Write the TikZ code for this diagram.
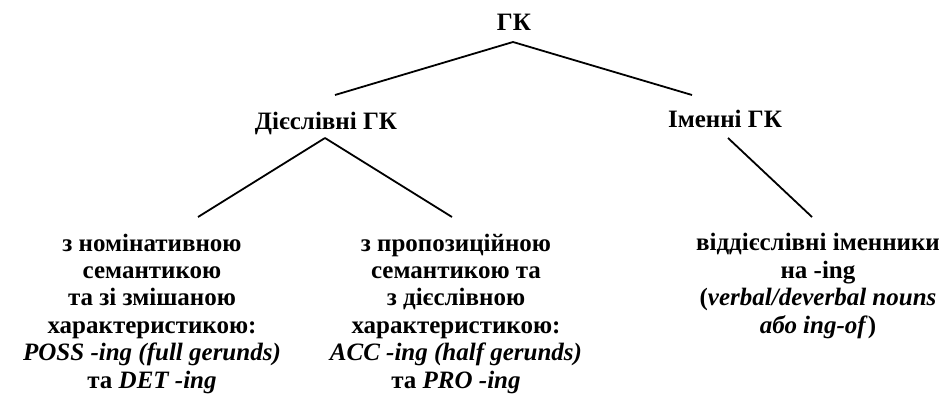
\documentclass[tikz,border=0pt]{standalone}
\usepackage{fontspec}
\setmainfont{Liberation Serif}
\begin{document}
\begin{tikzpicture}[x=1pt,y=-1pt,
  lbl/.style={inner sep=0pt, anchor=base, align=center,
    font=\fontsize{25}{27.4}\selectfont\bfseries},
  edge/.style={line width=1.8pt}]
\useasboundingbox (0,0) rectangle (941,409);
\node[lbl] (gk) at (514,31) {ГК};
\node[lbl] (dies) at (326,129) {Дієслівні ГК};
\node[lbl] (imen) at (725,128) {Іменні ГК};
\node[lbl] (nom) at (152,388) {з номінативною\\семантикою\\та зі змішаною\\характеристикою:\\\textit{POSS -ing (full gerunds)}\\та \textit{DET -ing}};
\node[lbl] (prop) at (456,388) {з пропозиційною\\семантикою та\\з дієслівною\\характеристикою:\\\textit{ACC -ing (half gerunds)}\\та \textit{PRO -ing}};
\node[lbl] (vid) at (818,333) {віддієслівні іменники\\на -ing\\(\textit{verbal/deverbal nouns}\\\textit{або ing-of})};
\coordinate (gk-s) at (513,42);
\coordinate (dies-n) at (335,95);
\coordinate (imen-n) at (692,95);
\coordinate (dies-s) at (325,138);
\coordinate (nom-n) at (198,217);
\coordinate (prop-n) at (452,217);
\coordinate (imen-s) at (728,138);
\coordinate (vid-n) at (812,217);
\draw[edge] (gk-s) -- (dies-n);
\draw[edge] (gk-s) -- (imen-n);
\draw[edge] (dies-s) -- (nom-n);
\draw[edge] (dies-s) -- (prop-n);
\draw[edge] (imen-s) -- (vid-n);
\end{tikzpicture}
\end{document}
